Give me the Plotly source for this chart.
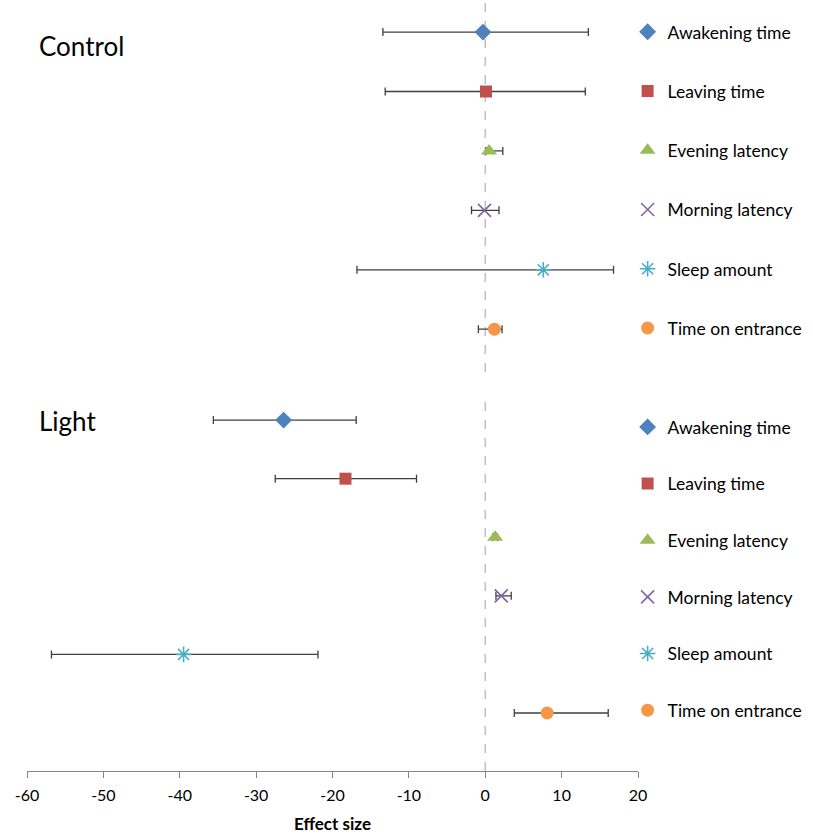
import plotly.graph_objects as go
from plotly.subplots import make_subplots

categories = ["Awakening time", "Leaving time", "Evening latency",
              "Morning latency", "Sleep amount", "Time on entrance"]
rows = [1, 2, 3, 4, 5, 6]

control_effect = [-0.3, 0.1, 0.5, -0.1, 7.6, 1.2]
control_lower = [-13.4, -13.1, 0.1, -1.8, -16.8, -0.9]
control_upper = [13.5, 13.1, 2.3, 1.8, 16.8, 2.2]

light_effect = [-26.4, -18.3, 1.3, 2.1, -39.5, 8.1]
light_lower = [-35.6, -27.5, 1.0, 1.4, -56.8, 3.8]
light_upper = [-16.9, -9.0, 1.6, 3.4, -21.9, 16.1]

x_ticks = [-60, -50, -40, -30, -20, -10, 0, 10, 20]
x_tick_labels = ["-60", "-50", "-40", "-30", "-20", "-10", "0", "10", "20"]

colors = ["#4F81BD", "#C0504D", "#9BBB59", "#8064A2", "#4BACC6", "#F79646"]
symbols = ["diamond", "square", "triangle-up", "x-thin", "asterisk", "circle"]
sizes = [13, 12, 14, 13, 13, 13]

FONT = "Lato"

fig = make_subplots(rows=2, cols=1, shared_xaxes=True, vertical_spacing=0.035,
                    row_heights=[0.5, 0.5])

panels = [
    (1, control_effect, control_lower, control_upper, "legend"),
    (2, light_effect, light_lower, light_upper, "legend2"),
]
for r, eff, lo, up, leg in panels:
    for i, name in enumerate(categories):
        thin = symbols[i] in ("x-thin", "asterisk")
        marker = dict(symbol=symbols[i], size=sizes[i], color=colors[i],
                      line=dict(color=colors[i], width=1.6 if thin else 0))
        fig.add_trace(go.Scatter(
            x=[eff[i]], y=[rows[i]], mode="markers", name=name,
            legend=leg, legendgroup=f"{leg}_{i}",
            marker=marker,
            error_x=dict(type="data", symmetric=False,
                         array=[up[i] - eff[i]], arrayminus=[eff[i] - lo[i]],
                         color="#3F3F3F", thickness=1.3, width=4),
            showlegend=True,
        ), row=r, col=1)

# dashed zero reference lines
for yref in ("y domain", "y2 domain"):
    fig.add_shape(type="line", xref="x", yref=yref, x0=0, x1=0, y0=0, y1=1,
                  line=dict(color="#BFBFBF", width=1.5, dash="dash"), layer="below")

fig.update_xaxes(range=[-60, 20], tickvals=x_ticks, ticktext=x_tick_labels,
                 showgrid=False, zeroline=False, automargin=False)
fig.update_xaxes(showline=False, ticks="", showticklabels=False, row=1, col=1)
fig.update_xaxes(showline=True, linecolor="#868686", linewidth=1, ticks="outside",
                 tickcolor="#868686", ticklen=6, ticklabelstandoff=4,
                 tickfont=dict(size=16, color="#000000", family=FONT),
                 title=dict(text="<b>Effect size</b>", font=dict(size=17, color="#000000", family=FONT),
                            standoff=20),
                 row=2, col=1)
fig.update_yaxes(visible=False, showgrid=False, zeroline=False)
fig.update_yaxes(range=[6.72, 0.46], row=1, col=1)
fig.update_yaxes(range=[6.99, 0.64], row=2, col=1)

fig.update_layout(
    width=813, height=834,
    margin=dict(l=27, r=175, t=0, b=63),
    plot_bgcolor="white", paper_bgcolor="white",
    font=dict(family=FONT, color="#000000"),
    showlegend=True,
    legend=dict(x=0.983, xanchor="left", y=0.982, yanchor="top",
                font=dict(size=17.5, family=FONT, color="#000000"),
                tracegroupgap=33.5, bgcolor="rgba(0,0,0,0)"),
    legend2=dict(x=0.983, xanchor="left", y=0.4695, yanchor="top",
                 font=dict(size=17.5, family=FONT, color="#000000"),
                 tracegroupgap=30.9, bgcolor="rgba(0,0,0,0)"),
    annotations=[
        dict(text="Control", xref="paper", yref="paper", x=0.016, y=0.94,
             xanchor="left", yanchor="middle", showarrow=False,
             font=dict(size=26, family=FONT, color="#000000")),
        dict(text="Light", xref="paper", yref="paper", x=0.016, y=0.454,
             xanchor="left", yanchor="middle", showarrow=False,
             font=dict(size=26, family=FONT, color="#000000")),
    ],
)

fig.write_html("out.html", config={"displayModeBar": False},
               post_script="document.body.style.margin='0';")
